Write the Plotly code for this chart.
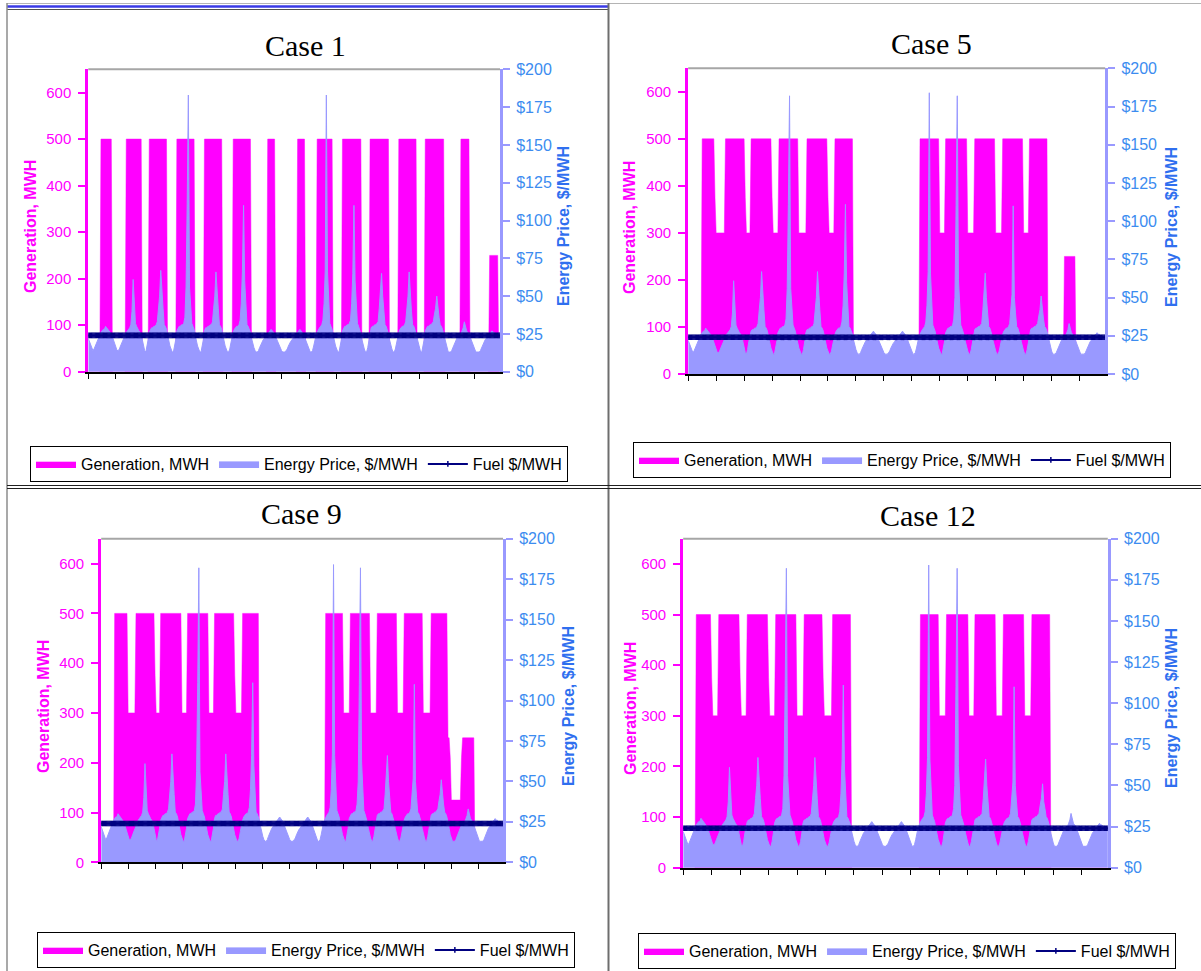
import plotly.graph_objects as go

# ---------------------------------------------------------------------------
# Data: 15 days of hourly values per case
# ---------------------------------------------------------------------------
HOURS = list(range(15 * 24))
DAY_TICKS = list(range(0, 337, 24))

GEN_TICKS = [0, 100, 200, 300, 400, 500, 600]
PRICE_TICKS = [0, 25, 50, 75, 100, 125, 150, 175, 200]
PRICE_TICK_TEXT = ["$0", "$25", "$50", "$75", "$100", "$125", "$150", "$175", "$200"]

FUEL_PRICE = 24  # $/MWh, flat over the horizon

# Hourly energy price ($/MWh), one row per day
PRICE_CASE_1 = [
    [22, 20, 17, 15, 14, 15, 17, 19, 21, 23, 25, 26, 27, 28, 28, 30, 29, 28, 27, 26, 25, 23, 21, 18],
    [16, 14, 14, 15, 17, 19, 21, 23, 24, 26, 27, 28, 29, 31, 40, 61, 40, 32, 30, 28, 27, 26, 25, 21],
    [17, 14, 13, 16, 21, 26, 28, 29, 29, 30, 30, 31, 33, 42, 50, 67, 50, 42, 31, 30, 28, 24, 20, 17],
    [15, 13, 13, 16, 21, 27, 29, 30, 30, 31, 31, 32, 36, 56, 111, 183, 56, 40, 32, 30, 28, 24, 20, 17],
    [15, 13, 13, 16, 21, 27, 29, 29, 30, 30, 31, 31, 33, 42, 50, 66, 50, 42, 31, 30, 28, 24, 20, 17],
    [15, 13, 13, 15, 19, 23, 26, 28, 29, 30, 30, 31, 34, 45, 66, 110, 60, 42, 31, 30, 28, 26, 22, 18],
    [16, 14, 13, 13, 14, 16, 18, 20, 21, 22, 23, 24, 25, 26, 27, 28, 27, 26, 25, 23, 21, 19, 17, 15],
    [14, 13, 13, 13, 14, 15, 17, 19, 20, 21, 22, 23, 23, 24, 26, 27, 28, 27, 26, 25, 23, 21, 19, 17],
    [15, 13, 13, 14, 17, 21, 24, 26, 28, 29, 30, 31, 34, 45, 66, 183, 66, 45, 32, 30, 28, 24, 20, 17],
    [15, 13, 13, 16, 21, 27, 29, 30, 30, 31, 31, 32, 34, 45, 65, 110, 60, 42, 32, 30, 28, 25, 21, 17],
    [15, 13, 13, 16, 21, 27, 29, 30, 30, 31, 31, 32, 33, 42, 52, 65, 50, 40, 31, 30, 28, 25, 21, 17],
    [15, 13, 13, 15, 19, 23, 26, 28, 29, 30, 30, 31, 33, 42, 50, 66, 48, 40, 31, 30, 28, 25, 21, 17],
    [15, 13, 13, 16, 21, 27, 29, 30, 30, 31, 31, 32, 33, 38, 42, 50, 40, 36, 31, 30, 28, 25, 21, 17],
    [15, 13, 13, 13, 14, 16, 18, 20, 22, 23, 23, 24, 25, 27, 29, 33, 29, 27, 26, 25, 23, 21, 18, 16],
    [14, 13, 13, 13, 13, 14, 16, 18, 20, 21, 22, 23, 24, 25, 26, 27, 26, 26, 25, 25, 24, 24, 24, 24],
]

PRICE_CASES_5_9_12 = [
    [22, 20, 17, 15, 14, 15, 17, 19, 21, 23, 25, 26, 27, 28, 28, 30, 29, 28, 27, 26, 25, 23, 21, 18],
    [16, 14, 14, 15, 17, 19, 21, 23, 24, 26, 27, 28, 29, 31, 40, 61, 40, 32, 30, 28, 27, 26, 25, 21],
    [17, 14, 13, 16, 21, 26, 28, 29, 29, 30, 30, 31, 33, 42, 50, 67, 50, 42, 31, 30, 28, 24, 20, 17],
    [15, 13, 13, 16, 21, 27, 29, 30, 30, 31, 31, 32, 36, 56, 111, 182, 56, 40, 32, 30, 28, 24, 20, 17],
    [15, 13, 13, 16, 21, 27, 29, 29, 30, 30, 31, 31, 33, 42, 50, 67, 50, 42, 31, 30, 28, 24, 20, 17],
    [15, 13, 13, 15, 19, 23, 26, 28, 29, 30, 30, 31, 34, 45, 66, 111, 60, 42, 31, 30, 28, 26, 22, 18],
    [16, 14, 13, 13, 14, 16, 18, 20, 21, 22, 23, 24, 25, 26, 27, 28, 27, 26, 25, 23, 21, 19, 17, 15],
    [14, 13, 13, 13, 14, 15, 17, 19, 20, 21, 22, 23, 23, 24, 26, 27, 28, 27, 26, 25, 23, 21, 19, 17],
    [15, 13, 13, 14, 17, 21, 24, 26, 28, 29, 30, 31, 34, 45, 67, 184, 66, 45, 32, 30, 28, 24, 20, 17],
    [15, 13, 13, 16, 21, 27, 29, 30, 30, 31, 31, 32, 36, 50, 110, 182, 62, 42, 32, 30, 28, 25, 21, 17],
    [15, 13, 13, 16, 21, 27, 29, 30, 30, 31, 31, 32, 33, 42, 52, 66, 50, 40, 31, 30, 28, 25, 21, 17],
    [15, 13, 13, 15, 19, 23, 26, 28, 29, 30, 30, 31, 33, 42, 52, 110, 50, 40, 31, 30, 28, 25, 21, 17],
    [15, 13, 13, 16, 21, 27, 29, 30, 30, 31, 31, 32, 33, 38, 42, 51, 40, 36, 31, 30, 28, 25, 21, 17],
    [15, 13, 13, 13, 14, 16, 18, 20, 22, 23, 23, 24, 25, 27, 29, 33, 29, 27, 26, 25, 23, 21, 18, 16],
    [14, 13, 13, 13, 13, 14, 16, 18, 20, 21, 22, 23, 24, 25, 26, 27, 26, 26, 25, 25, 24, 24, 24, 24],
]

# Hourly generation (MWh) as consecutive runs of (level, hours)
GEN_CASE_1 = [
    (0, 11), (500, 10), (0, 12), (500, 14), (0, 6), (500, 16), (0, 8), (500, 16),
    (0, 8), (500, 16), (0, 9), (500, 16), (0, 14), (500, 7), (0, 19), (500, 7),
    (0, 10), (500, 14), (0, 8), (500, 17), (0, 7), (500, 17), (0, 8), (500, 16),
    (0, 7), (500, 17), (0, 14), (500, 8), (0, 17), (250, 8), (0, 3),
]
GEN_CASE_5 = [
    (0, 12), (500, 11), (375, 1), (300, 8), (500, 17), (375, 1), (300, 4), (500, 18),
    (375, 1), (300, 5), (500, 17), (300, 7), (500, 18), (375, 1), (300, 5), (500, 16),
    (0, 57), (500, 17), (300, 5), (500, 19), (300, 6), (500, 18), (300, 6), (500, 18),
    (300, 5), (500, 16), (0, 14), (250, 10), (0, 27),
]
GEN_CASE_9 = [
    (0, 12), (500, 12), (300, 7), (500, 17), (375, 1), (300, 4), (500, 19), (300, 5),
    (500, 19), (300, 5), (500, 18), (375, 1), (300, 6), (500, 15), (0, 59), (500, 16),
    (300, 6), (500, 18), (300, 6), (500, 18), (300, 6), (500, 17), (300, 7), (500, 15),
    (250, 2), (210, 1), (125, 9), (210, 1), (250, 11), (0, 27),
]
GEN_CASE_12 = [
    (0, 11), (500, 13), (375, 1), (300, 5), (500, 18), (375, 1), (300, 5), (500, 18),
    (375, 1), (300, 5), (500, 18), (300, 6), (500, 16), (375, 1), (300, 7), (500, 16),
    (0, 58), (500, 16), (300, 6), (500, 19), (300, 5), (500, 18), (300, 6), (500, 18),
    (300, 6), (500, 16), (0, 50),
]

CASE_NAMES = ["Case 1", "Case 5", "Case 9", "Case 12"]
CASE_GEN = [GEN_CASE_1, GEN_CASE_5, GEN_CASE_9, GEN_CASE_12]
CASE_PRICE = [PRICE_CASE_1, PRICE_CASES_5_9_12, PRICE_CASES_5_9_12, PRICE_CASES_5_9_12]

# ---------------------------------------------------------------------------
# Styling
# ---------------------------------------------------------------------------
W, H = 1201, 971
SANS = "Liberation Sans, Arial, sans-serif"
SERIF = "Liberation Serif, Times New Roman, serif"
MAGENTA = "#FF00FF"
PERIWINKLE = "#9999FF"
NAVY = "#000080"
PRICE_LABEL = "#3C8CF0"
PRICE_TITLE = "#2F6FEF"

# Panel geometry in pixels: plot box (left, top, right, bottom), title centre,
# legend top-left corner, centres of the left and right axis titles
PANELS = [
    dict(box=(88.3, 69.3, 500.0, 371.7), title=(305, 45), legend=(30, 446),
         ltitle=(30, 227), rtitle=(564, 226)),
    dict(box=(688.2, 68.3, 1105.2, 374.0), title=(931, 43), legend=(633, 442),
         ltitle=(630, 228), rtitle=(1171, 227)),
    dict(box=(101.2, 538.7, 503.0, 862.3), title=(301, 513), legend=(37, 932),
         ltitle=(43, 707), rtitle=(568, 706)),
    dict(box=(683.2, 538.7, 1107.8, 867.7), title=(928, 515), legend=(638, 933),
         ltitle=(630, 709), rtitle=(1171, 708)),
]


def px(x):
    return x / W


def py(y):
    return 1 - y / H


def expand_runs(runs):
    values = []
    for level, n in runs:
        values.extend([level] * n)
    return values


def flatten(rows):
    return [v for row in rows for v in row]


fig = go.Figure()
layout = dict(
    width=W, height=H,
    margin=dict(l=0, r=0, t=0, b=0, pad=0, autoexpand=False),
    paper_bgcolor="white", plot_bgcolor="rgba(0,0,0,0)",
    showlegend=True, annotations=[], shapes=[],
)

for i, (name, gen_runs, price_rows, panel) in enumerate(
        zip(CASE_NAMES, CASE_GEN, CASE_PRICE, PANELS), start=1):
    left, top, right, bottom = panel["box"]
    xname = "x" if i == 1 else f"x{i}"
    gname = "y" if i == 1 else f"y{i}"
    pname = f"y{i + 4}"
    lname = "legend" if i == 1 else f"legend{i}"

    gen = expand_runs(gen_runs)
    price = flatten(price_rows)
    fuel = [FUEL_PRICE] * len(HOURS)

    fig.add_trace(go.Scatter(
        x=HOURS, y=gen, xaxis=xname, yaxis=gname, mode="lines",
        fill="tozeroy", fillcolor=MAGENTA, line=dict(color=MAGENTA, width=0.5),
        name="Generation, MWH", legend=lname, hoverinfo="skip"))
    fig.add_trace(go.Scatter(
        x=HOURS, y=price, xaxis=xname, yaxis=pname, mode="lines",
        fill="tozeroy", fillcolor=PERIWINKLE, line=dict(color=PERIWINKLE, width=1),
        name="Energy Price, $/MWH", legend=lname, hoverinfo="skip"))
    fig.add_trace(go.Scatter(
        x=HOURS, y=fuel, xaxis=xname, yaxis=pname, mode="lines+markers",
        line=dict(color=NAVY, width=2),
        marker=dict(symbol="line-ns", size=4, color=NAVY,
                    line=dict(color=NAVY, width=1.5)),
        name="Fuel $/MWH", legend=lname, hoverinfo="skip"))

    xkey = "xaxis" if i == 1 else f"xaxis{i}"
    gkey = "yaxis" if i == 1 else f"yaxis{i}"
    pkey = f"yaxis{i + 4}"

    layout[xkey] = dict(
        domain=[px(left), px(right)], anchor=gname, range=[0, 358],
        tickvals=DAY_TICKS, showticklabels=False, ticks="outside", ticklen=5,
        tickwidth=1, tickcolor="black", showline=True, linecolor="black",
        linewidth=2, showgrid=False, zeroline=False, fixedrange=True,
        automargin=False)
    layout[gkey] = dict(
        domain=[py(bottom), py(top)], anchor=xname, range=[0, 650],
        tickvals=GEN_TICKS, ticks="outside", ticklen=7, tickwidth=2,
        tickcolor=MAGENTA, showline=True, linecolor=MAGENTA, linewidth=3,
        tickfont=dict(family=SANS, size=15, color=MAGENTA),
        ticklabelstandoff=4, showgrid=False, zeroline=False, fixedrange=True,
        automargin=False)
    layout[pkey] = dict(
        overlaying=gname, side="right", anchor=xname, range=[0, 200],
        tickvals=PRICE_TICKS, ticktext=PRICE_TICK_TEXT, ticks="outside",
        ticklen=7, tickwidth=2, tickcolor=PERIWINKLE, showline=True,
        linecolor=PERIWINKLE, linewidth=3,
        tickfont=dict(family=SANS, size=16, color=PRICE_LABEL),
        ticklabelstandoff=3, showgrid=False, zeroline=False, fixedrange=True,
        automargin=False)

    lx, ly = panel["legend"]
    layout[lname] = dict(
        orientation="h", x=px(lx), y=py(ly), xanchor="left", yanchor="top",
        bordercolor="black", borderwidth=1, bgcolor="white", itemwidth=40,
        font=dict(family=SANS, size=16, color="black"),
        traceorder="normal", itemclick=False, itemdoubleclick=False)

    tx, ty = panel["title"]
    layout["annotations"].append(dict(
        text=name, x=px(tx), y=py(ty), xref="paper", yref="paper",
        showarrow=False, xanchor="center", yanchor="middle",
        font=dict(family=SERIF, size=30, color="black")))
    ax_, ay_ = panel["ltitle"]
    layout["annotations"].append(dict(
        text="<b>Generation, MWH</b>", x=px(ax_), y=py(ay_), xref="paper",
        yref="paper", showarrow=False, textangle=-90, xanchor="center",
        yanchor="middle", font=dict(family=SANS, size=16, color=MAGENTA)))
    bx_, by_ = panel["rtitle"]
    layout["annotations"].append(dict(
        text="<b>Energy Price, $/MWH</b>", x=px(bx_), y=py(by_), xref="paper",
        yref="paper", showarrow=False, textangle=-90, xanchor="center",
        yanchor="middle", font=dict(family=SANS, size=16, color=PRICE_TITLE)))

    # grey border along the top of the plot area
    layout["shapes"].append(dict(
        type="line", xref="paper", yref="paper", x0=px(left), x1=px(right),
        y0=py(top), y1=py(top), line=dict(color="#A6A6A6", width=2)))

# Table-cell frame around the four charts
frame = [
    ((7, 3.5), (1201, 3.5), "#B4B4B4", 1),
    ((7, 6.5), (608, 6.5), "#3A3AE6", 2.5),
    ((7, 9.5), (608, 9.5), "#505050", 1),
    ((7, 3), (7, 971), "#8C8C8C", 1.5),
    ((608.5, 3), (608.5, 971), "#6E6E6E", 2),
    ((7, 485.5), (1201, 485.5), "#202020", 1),
    ((7, 488.5), (1201, 488.5), "#202020", 1),
]
for (x0, y0), (x1, y1), color, width in frame:
    layout["shapes"].append(dict(
        type="line", xref="paper", yref="paper", x0=px(x0), x1=px(x1),
        y0=py(y0), y1=py(y1), line=dict(color=color, width=width)))

fig.update_layout(**layout)
fig.write_html("out.html", config={"displayModeBar": False})
